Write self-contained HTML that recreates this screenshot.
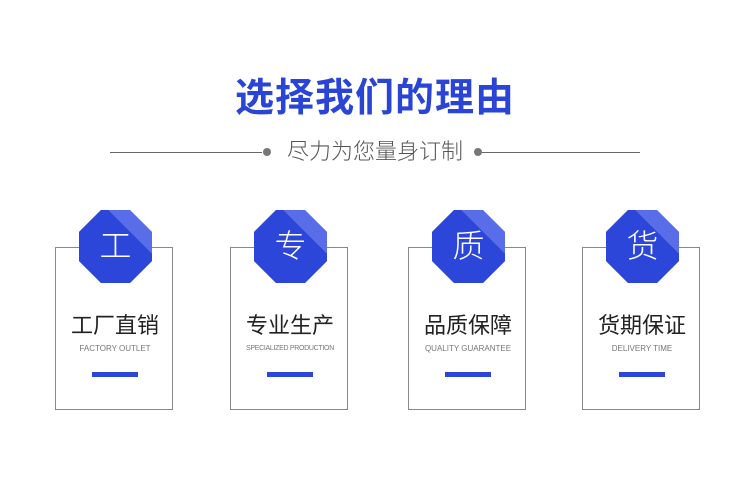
<!DOCTYPE html><html><head><meta charset="utf-8"><style>
body{margin:0;width:750px;height:482px;background:#fff;position:relative;overflow:hidden;font-family:"Liberation Sans","Noto Sans CJK SC",sans-serif}
.a{position:absolute}
.t{left:0;width:750px;text-align:center;top:73px;font-size:39px;font-weight:bold;color:#2a45d6;letter-spacing:1px;line-height:52px}
.s{left:0;width:750px;text-align:center;top:138px;font-size:22px;color:#555;line-height:28px;font-weight:300}
.ln{height:1px;background:#666;top:152px}
.dot{width:8px;height:8px;border-radius:50%;background:#777;top:148px}
.card{border:1px solid #888;width:118px;height:163px;top:247px;box-sizing:border-box}
.oct{width:73px;height:73px;top:210px;background:linear-gradient(225deg,#5a6de8 0,#5a6de8 30%,#2b46d8 30%);clip-path:polygon(30% 0,70% 0,100% 30%,100% 70%,70% 100%,30% 100%,0 70%,0 30%);color:#fff;font-size:32px;text-align:center;line-height:73px;font-weight:300}
.ct{width:160px;text-align:center;top:312px;font-size:22px;color:#222;line-height:28px}
.cs{width:160px;text-align:center;top:344px;font-size:8px;color:#777;line-height:10px}
.bar{width:46px;height:5px;background:#2b46d8;top:372px}
</style></head><body>
<div class="a t">选择我们的理由</div>
<div class="a s">尽力为您量身订制</div>
<div class="a ln" style="left:110px;width:152px"></div>
<div class="a dot" style="left:263px"></div>
<div class="a dot" style="left:474px"></div>
<div class="a ln" style="left:482px;width:158px"></div>

<div class="a card" style="left:55px"></div>
<div class="a oct" style="left:79px">工</div>
<div class="a ct" style="left:35px">工厂直销</div>
<div class="a cs" style="left:35px">FACTORY OUTLET</div>
<div class="a bar" style="left:92px"></div>

<div class="a card" style="left:230px"></div>
<div class="a oct" style="left:254px">专</div>
<div class="a ct" style="left:210px">专业生产</div>
<div class="a cs" style="left:210px;font-size:7px;letter-spacing:-0.3px">SPECIALIZED PRODUCTION</div>
<div class="a bar" style="left:267px"></div>

<div class="a card" style="left:408px"></div>
<div class="a oct" style="left:432px">质</div>
<div class="a ct" style="left:388px">品质保障</div>
<div class="a cs" style="left:388px">QUALITY GUARANTEE</div>
<div class="a bar" style="left:445px"></div>

<div class="a card" style="left:582px"></div>
<div class="a oct" style="left:606px">货</div>
<div class="a ct" style="left:562px">货期保证</div>
<div class="a cs" style="left:562px">DELIVERY TIME</div>
<div class="a bar" style="left:619px"></div>
</body></html>
